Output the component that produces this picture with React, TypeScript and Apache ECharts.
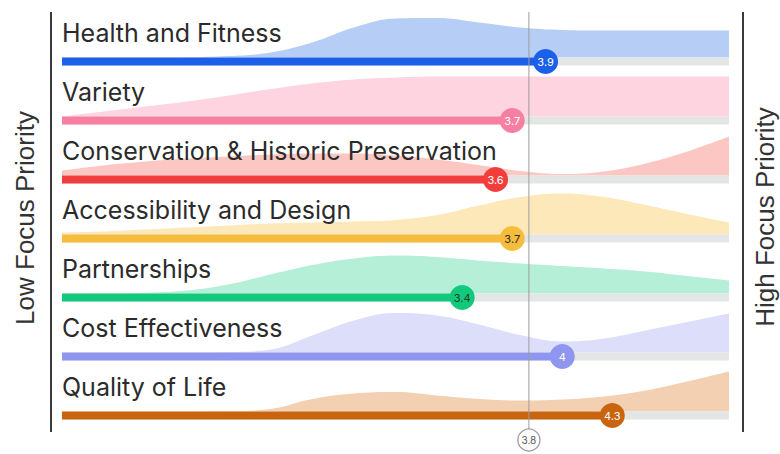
import React, { useEffect, useRef } from "react";
import * as echarts from "echarts";

// ---- data ----
const categories = [
  "Health and Fitness",
  "Variety",
  "Conservation & Historic Preservation",
  "Accessibility and Design",
  "Partnerships",
  "Cost Effectiveness",
  "Quality of Life",
];
const scores = [3.9, 3.7, 3.6, 3.7, 3.4, 4, 4.3];
const benchmark = 3.8;
const densityX = [1, 1.25, 1.5, 1.75, 2, 2.25, 2.5, 2.75, 3, 3.25, 3.5, 3.75, 4, 4.25, 4.5, 4.75, 5];
const densityHealth = [0, 0, 0, 0.3, 1.5, 5, 15, 30, 39, 39.5, 35, 30, 27.5, 27, 27, 27, 27];
const densityVariety = [0, 5, 10, 15, 21, 27.5, 33, 37, 39, 40, 40, 40, 40, 40, 40, 40, 40];
const densityConservation = [5, 10, 14, 17, 19, 21, 22, 22, 20, 16, 10.5, 4.5, 1.5, 4, 12, 24, 39];
const densityAccessibility = [2, 3, 5, 7, 9, 11, 12, 13, 14.5, 19.5, 29, 37.5, 41, 37.5, 29.5, 20.5, 12];
const densityPartnerships = [0, 0.3, 0.8, 3, 9, 19, 28.5, 35, 38, 36.5, 33, 30, 27.5, 25, 22, 17.5, 13];
const densityCost = [0, 0, 0, 0, 0.5, 3, 17, 32, 39.5, 37, 28, 17.5, 11, 14, 22, 30.5, 39];
const densityQuality = [0, 0, 0, 0, 0.4, 2.5, 12.5, 18, 19.5, 16, 12.5, 11, 12, 15, 21, 30, 40];
const densities = [
  densityHealth,
  densityVariety,
  densityConservation,
  densityAccessibility,
  densityPartnerships,
  densityCost,
  densityQuality,
];
const leftLabel = "Low Focus Priority";
const rightLabel = "High Focus Priority";

// ---- styles ----
const barColors = ["#1c5fe9", "#f77fa1", "#f23d3d", "#f6bd3c", "#12c97b", "#8f96f0", "#c9650f"];
const areaColors = ["#b6cdf6", "#fdd4df", "#fcc6c2", "#fde8ba", "#b5efd7", "#dcdefa", "#f3d0b2"];
const valueTextColors = ["#ffffff", "#ffffff", "#ffffff", "#2a2a2a", "#1f3a2c", "#ffffff", "#ffffff"];

const ROW0 = 61.5;
const STEP = 59;
const AREA_H = 50;
const BAR_H = 8;
const PLOT_LEFT = 62;
const PLOT_W = 667;

export default function App() {
  const ref = useRef<HTMLDivElement>(null);
  useEffect(() => {
    if (!ref.current) return;
    const chart = echarts.init(ref.current, undefined, { renderer: "svg" });
    const grids: any[] = [];
    const xAxes: any[] = [];
    const yAxes: any[] = [];
    const series: any[] = [];
    const graphics: any[] = [];

    categories.forEach((cat, i) => {
      const c = ROW0 + STEP * i;
      grids.push({ left: PLOT_LEFT, width: PLOT_W, top: c - BAR_H / 2 - AREA_H, height: AREA_H + BAR_H });
      xAxes.push({ type: "value", gridIndex: i, min: 1, max: 5, show: false });
      yAxes.push({ type: "value", gridIndex: i, min: -BAR_H, max: AREA_H, show: false });
      series.push({
        type: "line",
        xAxisIndex: i,
        yAxisIndex: i,
        data: densityX.map((x, k) => [x, densities[i][k]]),
        smooth: 0.4,
        symbol: "none",
        lineStyle: { width: 0 },
        areaStyle: { color: areaColors[i], opacity: 1, origin: 0 },
        z: 1,
        silent: true,
      });
      series.push({
        type: "line",
        xAxisIndex: i,
        yAxisIndex: i,
        data: [[1, -BAR_H / 2], [5, -BAR_H / 2]],
        symbol: "none",
        lineStyle: { width: BAR_H, color: "#e4e5e5", cap: "butt" },
        z: 2,
        silent: true,
      });
      series.push({
        type: "line",
        xAxisIndex: i,
        yAxisIndex: i,
        data: [[1, -BAR_H / 2], [scores[i], -BAR_H / 2]],
        symbol: "none",
        lineStyle: { width: BAR_H, color: barColors[i], cap: "butt" },
        z: 3,
        silent: true,
      });
      series.push({
        type: "scatter",
        xAxisIndex: i,
        yAxisIndex: i,
        data: [[scores[i], -BAR_H / 2]],
        symbolSize: 25,
        itemStyle: { color: barColors[i], opacity: 1 },
        label: {
          show: true,
          position: "inside",
          formatter: (p: any) => String(p.value[0]),
          color: valueTextColors[i],
          fontSize: 11,
          fontFamily: "Inter",
        },
        z: 6,
        silent: true,
      });
      graphics.push({
        type: "text",
        left: PLOT_LEFT,
        top: c - 41,
        z: 10,
        style: {
          text: cat,
          fill: "#2b2b2b",
          font: '400 25px "Inter"',
        },
      });
    });

    // benchmark grid
    const bi = categories.length;
    grids.push({ left: PLOT_LEFT, width: PLOT_W, top: 12, height: 428 });
    xAxes.push({ type: "value", gridIndex: bi, min: 1, max: 5, show: false });
    yAxes.push({ type: "value", gridIndex: bi, min: 0, max: 1, show: false });
    series.push({
      type: "line",
      xAxisIndex: bi,
      yAxisIndex: bi,
      data: [[benchmark, 0], [benchmark, 1]],
      symbol: "none",
      lineStyle: { width: 1, color: "#9c9c9c" },
      z: 5,
      silent: true,
    });
    series.push({
      type: "scatter",
      xAxisIndex: bi,
      yAxisIndex: bi,
      data: [[benchmark, 0]],
      symbolSize: 22,
      itemStyle: { color: "#ffffff", borderColor: "#9c9c9c", borderWidth: 1.3, opacity: 1 },
      label: {
        show: true,
        position: "inside",
        formatter: (p: any) => String(p.value[0]),
        color: "#555555",
        fontSize: 10,
        fontFamily: "Inter",
      },
      z: 7,
      silent: true,
    });

    graphics.push(
      { type: "line", shape: { x1: 51, y1: 12, x2: 51, y2: 432 }, style: { stroke: "#3a3a3a", lineWidth: 2 } },
      { type: "line", shape: { x1: 743, y1: 12, x2: 743, y2: 432 }, style: { stroke: "#3a3a3a", lineWidth: 2 } },
      {
        type: "text",
        x: 25,
        y: 218,
        rotation: Math.PI / 2,
        style: {
          text: leftLabel,
          fill: "#333333",
          font: '400 26px "Liberation Sans"',
          align: "center",
          verticalAlign: "middle",
        },
      },
      {
        type: "text",
        x: 765,
        y: 217,
        rotation: Math.PI / 2,
        style: {
          text: rightLabel,
          fill: "#333333",
          font: '400 26px "Liberation Sans"',
          align: "center",
          verticalAlign: "middle",
        },
      }
    );

    chart.setOption({
      animation: false,
      backgroundColor: "#ffffff",
      grid: grids,
      xAxis: xAxes,
      yAxis: yAxes,
      series,
      graphic: graphics,
    });
    return () => chart.dispose();
  }, []);
  return <div ref={ref} style={{ position: "fixed", left: 0, top: 0, width: 780, height: 454 }} />;
}
